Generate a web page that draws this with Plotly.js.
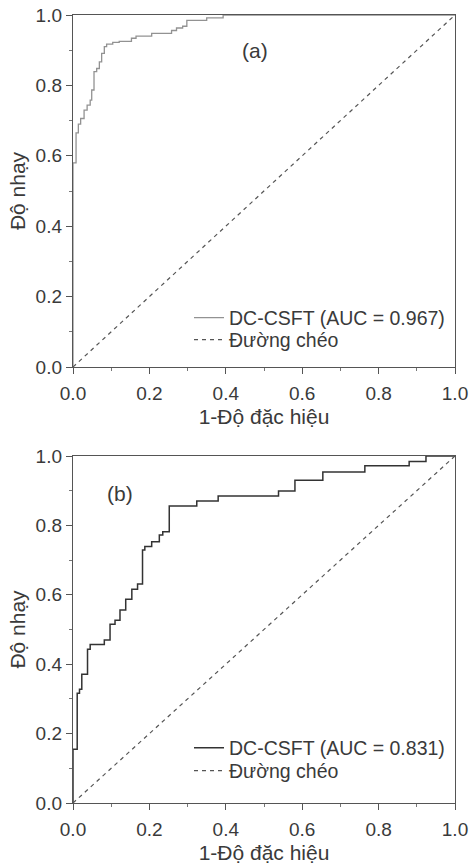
<!DOCTYPE html>
<html>
<head>
<meta charset="utf-8">
<script src="https://cdn.plot.ly/plotly-3.0.1.min.js"></script>
<style>
html,body{margin:0;padding:0;background:#fff;}
#chart{width:469px;height:865px;}
</style>
</head>
<body>
<div id="chart"></div>
<script>
// Panel (a) ROC staircase corners
const fprA = [0, 0, 0.008, 0.014, 0.020, 0.029, 0.037, 0.045, 0.049, 0.055, 0.062, 0.069, 0.075, 0.082, 0.088, 0.104, 0.121, 0.153, 0.165, 0.206, 0.258, 0.271, 0.287, 0.298, 0.350, 0.393, 1.0];
const tprA = [0, 0.580, 0.665, 0.690, 0.706, 0.730, 0.744, 0.758, 0.787, 0.839, 0.848, 0.867, 0.891, 0.910, 0.917, 0.922, 0.925, 0.934, 0.940, 0.948, 0.956, 0.963, 0.968, 0.985, 0.992, 1.0, 1.0];
// Panel (b) ROC staircase corners
const fprB = [0, 0, 0.011, 0.017, 0.023, 0.038, 0.045, 0.082, 0.097, 0.110, 0.123, 0.138, 0.154, 0.169, 0.182, 0.188, 0.206, 0.226, 0.235, 0.252, 0.324, 0.380, 0.538, 0.581, 0.654, 0.764, 0.880, 0.924, 1.0];
const tprB = [0, 0.155, 0.316, 0.328, 0.371, 0.443, 0.457, 0.470, 0.515, 0.527, 0.556, 0.587, 0.616, 0.631, 0.729, 0.739, 0.753, 0.772, 0.782, 0.856, 0.870, 0.885, 0.899, 0.930, 0.954, 0.972, 0.984, 1.0, 1.0];
// Diagonal reference line
const diagX = [0, 1];
const diagY = [0, 1];
// Ticks
const tickVals = [0, 0.2, 0.4, 0.6, 0.8, 1.0];
const tickText = ["0.0", "0.2", "0.4", "0.6", "0.8", "1.0"];
// Labels
const nameA = "DC-CSFT (AUC = 0.967)";
const nameB = "DC-CSFT (AUC = 0.831)";
const nameDiag = "Đường chéo";
const xTitle = "1-Độ đặc hiệu";
const yTitle = "Độ nhạy";

const W = 469, H = 865;
const FONT = "Liberation Sans, Arial, sans-serif";
const TXT = "#3a3a3a";

const traces = [
  {x: fprA, y: tprA, xaxis: 'x', yaxis: 'y', mode: 'lines', name: nameA, legend: 'legend',
   line: {color: '#929292', width: 1.3, shape: 'hv'}},
  {x: diagX, y: diagY, xaxis: 'x', yaxis: 'y', mode: 'lines', name: nameDiag, legend: 'legend2',
   line: {color: '#555', width: 1.2, dash: '4px,4px'}},
  {x: fprB, y: tprB, xaxis: 'x2', yaxis: 'y2', mode: 'lines', name: nameB, legend: 'legend3',
   line: {color: '#333', width: 1.5, shape: 'hv'}},
  {x: diagX, y: diagY, xaxis: 'x2', yaxis: 'y2', mode: 'lines', name: nameDiag, legend: 'legend4',
   line: {color: '#555', width: 1.2, dash: '4px,4px'}}
];

function xax(anchor){
  return {
    domain: [73/W, 455/W], anchor: anchor, range: [0, 1],
    tickvals: tickVals, ticktext: tickText, ticks: 'outside', ticklen: 6, tickcolor: '#555',
    ticklabelstandoff: 3,
    minor: {dtick: 0.1, ticks: 'outside', ticklen: 3, tickcolor: '#777'},
    showline: true, linecolor: '#555', linewidth: 1.2, mirror: true,
    showgrid: false, zeroline: false, fixedrange: true,
    tickfont: {family: FONT, size: 19, color: TXT},
    title: {text: xTitle, font: {family: FONT, size: 21, color: TXT}, standoff: 6}
  };
}
function yax(anchor, d){
  return {
    domain: d, anchor: anchor, range: [0, 1],
    tickvals: tickVals, ticktext: tickText, ticks: 'outside', ticklen: 6, tickcolor: '#555',
    minor: {dtick: 0.1, ticks: 'outside', ticklen: 3, tickcolor: '#777'},
    showline: true, linecolor: '#555', linewidth: 1.2, mirror: true,
    showgrid: false, zeroline: false, fixedrange: true,
    tickfont: {family: FONT, size: 19, color: TXT},
    title: {text: yTitle, font: {family: FONT, size: 21, color: TXT}, standoff: 4}
  };
}
function leg(cy){
  return {x: 189/W, y: 1 - cy/H, xanchor: 'left', yanchor: 'middle', bgcolor: 'rgba(0,0,0,0)',
          font: {family: FONT, size: 19.5, color: TXT}, itemwidth: 30, tracegroupgap: 0};
}

const layout = {
  width: W, height: H,
  margin: {l: 0, r: 0, t: 0, b: 0},
  paper_bgcolor: '#ffffff', plot_bgcolor: '#ffffff',
  showlegend: true,
  xaxis: xax('y'),
  yaxis: yax('x', [1 - 367/H, 1 - 15/H]),
  xaxis2: xax('y2'),
  yaxis2: yax('x2', [1 - 803/H, 1 - 456/H]),
  legend: leg(318),
  legend2: leg(340),
  legend3: leg(748),
  legend4: leg(771),
  annotations: [
    {text: '(a)', xref: 'x', yref: 'y', x: 0.476, y: 0.90, showarrow: false,
     font: {family: FONT, size: 21, color: TXT}},
    {text: '(b)', xref: 'x2', yref: 'y2', x: 0.123, y: 0.893, showarrow: false,
     font: {family: FONT, size: 21, color: TXT}}
  ]
};

Plotly.newPlot('chart', traces, layout, {displayModeBar: false, staticPlot: true});
</script>
</body>
</html>
